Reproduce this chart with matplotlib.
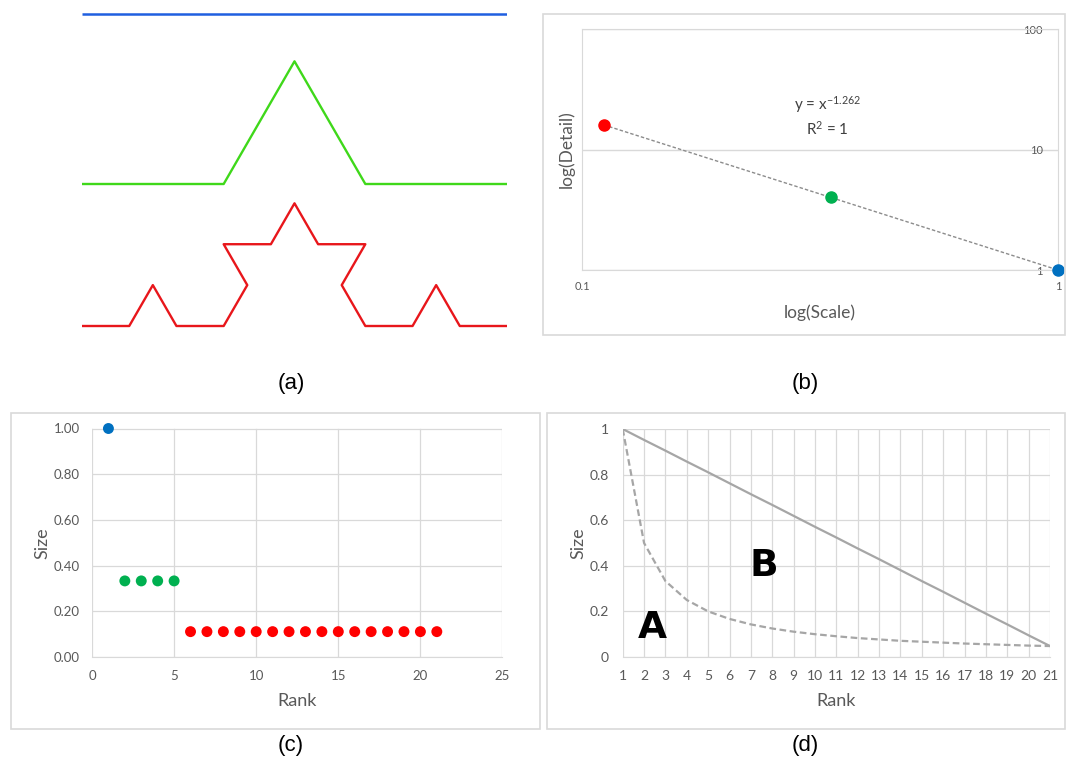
import matplotlib
matplotlib.use("Agg")
import matplotlib.pyplot as plt
from matplotlib.patches import Rectangle
from matplotlib.ticker import FixedLocator, NullLocator, FixedFormatter

# ---------------- data ----------------
# (a) Koch curve vertices, in units of 1/9 of the full length
koch0_x = [0, 9]
koch0_y = [0, 0]
koch1_x = [0, 3, 4.5, 6, 9]
koch1_y = [0, 0, 2.598, 0, 0]
koch2_x = [0, 1, 1.5, 2, 3, 3.5, 3, 4, 4.5, 5, 6, 5.5, 6, 7, 7.5, 8, 9]
koch2_y = [0, 0, 0.866, 0, 0, 0.866, 1.732, 1.732, 2.598, 1.732, 1.732,
           0.866, 0, 0, 0.866, 0, 0]

# (b) log-log scale vs detail
scale_vals = [1 / 9, 1 / 3, 1]
detail_vals = [16, 4, 1]
b_xticks = [0.1, 1]
b_xticklabels = ["0.1", "1"]
b_yticks = [1, 10, 100]
b_yticklabels = ["1", "10", "100"]
eq_text = "y = x$^{\\mathregular{-1.262}}$"
r2_text = "R$^{\\mathregular{2}}$ = 1"

# (c) rank vs size
rank_c = list(range(1, 22))
size_c = [1.00, 0.333, 0.333, 0.333, 0.333,
          0.111, 0.111, 0.111, 0.111, 0.111, 0.111, 0.111, 0.111,
          0.111, 0.111, 0.111, 0.111, 0.111, 0.111, 0.111, 0.111]
c_xticks = [0, 5, 10, 15, 20, 25]
c_yticks = [0.0, 0.2, 0.4, 0.6, 0.8, 1.0]

# (d) rank vs size: linear (solid) and 1/rank (dashed)
rank_d = list(range(1, 22))
linear_d = [1.000, 0.952, 0.905, 0.857, 0.810, 0.762, 0.714, 0.667, 0.619,
            0.571, 0.524, 0.476, 0.429, 0.381, 0.333, 0.286, 0.238, 0.190,
            0.143, 0.095, 0.048]
zipf_d = [1.000, 0.500, 0.333, 0.250, 0.200, 0.167, 0.143, 0.125, 0.111,
          0.100, 0.091, 0.083, 0.077, 0.071, 0.067, 0.063, 0.059, 0.056,
          0.053, 0.050, 0.048]
d_yticks = [0, 0.2, 0.4, 0.6, 0.8, 1.0]
d_yticklabels = ["0", "0.2", "0.4", "0.6", "0.8", "1"]

panel_labels = ["(a)", "(b)", "(c)", "(d)"]

# ---------------- figure ----------------
W, H = 1067, 765
fig = plt.figure(figsize=(W / 100, H / 100), dpi=100)
fig.patch.set_facecolor("white")
plt.rcParams["mathtext.default"] = "regular"

XL_FONT = ["Lato", "DejaVu Sans"]
TICK_C = "#595959"
GRID_C = "#d9d9d9"


def px_axes(x0, y0, x1, y1):
    return fig.add_axes([x0 / W, 1 - y1 / H, (x1 - x0) / W, (y1 - y0) / H])


def frame(x0, y0, x1, y1):
    fig.patches.append(Rectangle((x0 / W, 1 - y1 / H), (x1 - x0) / W,
                                 (y1 - y0) / H, transform=fig.transFigure,
                                 fill=False, edgecolor=GRID_C, lw=1.2))


# ---- (a) ----
axa = px_axes(82, 5, 507, 335)
unit = 425 / 9
axa.set_xlim(0, 9)
axa.set_ylim(-(335 - 326) / unit, (326 - 5) / unit)
off0, off1, off2 = 6.607, 3.007, 0.0
axa.plot(koch0_x, [v + off0 for v in koch0_y], color="#1f5fe0", lw=1.8,
         solid_capstyle="butt")
axa.plot(koch1_x, [v + off1 for v in koch1_y], color="#3fd81a", lw=1.7,
         solid_capstyle="butt")
axa.plot(koch2_x, [v + off2 for v in koch2_y], color="#e8161b", lw=1.7,
         solid_capstyle="butt")
axa.axis("off")

# ---- (b) ----
frame(543, 14, 1065, 335)
axb = px_axes(582, 29, 1058, 270)
axb.set_xscale("log")
axb.set_yscale("log")
axb.set_xlim(0.1, 1)
axb.set_ylim(1, 100)
axb.plot(scale_vals, detail_vals, ls=(0, (2.5, 1.5)), color="#8c8c8c", lw=1.0,
         zorder=2)
b_colors = ["#ff0000", "#00b050", "#0070c0"]
for xv, yv, cc in zip(scale_vals, detail_vals, b_colors):
    axb.plot([xv], [yv], marker="o", ms=8, color=cc, mec=cc, zorder=3,
             clip_on=False)
axb.xaxis.set_major_locator(FixedLocator(b_xticks))
axb.xaxis.set_major_formatter(FixedFormatter(b_xticklabels))
axb.xaxis.set_minor_locator(NullLocator())
axb.yaxis.set_major_locator(FixedLocator(b_yticks))
axb.yaxis.set_major_formatter(FixedFormatter(b_yticklabels))
axb.yaxis.set_minor_locator(NullLocator())
axb.yaxis.tick_right()
axb.tick_params(axis="y", length=0, pad=-11, labelsize=8, colors=TICK_C)
axb.tick_params(axis="x", length=0, pad=8, labelsize=8, colors=TICK_C)
for lab in axb.get_yticklabels():
    lab.set_horizontalalignment("right")
    lab.set_family(XL_FONT)
for lab in axb.get_xticklabels():
    lab.set_family(XL_FONT)
axb.grid(True, axis="y", color=GRID_C, lw=1.0)
for s in axb.spines.values():
    s.set_color(GRID_C)
axb.set_xlabel("log(Scale)", fontsize=12.5, color=TICK_C, family=XL_FONT,
               labelpad=9)
axb.set_ylabel("log(Detail)", fontsize=12.5, color=TICK_C, family=XL_FONT,
               labelpad=5)
axb.text(0.515, 0.688, eq_text, transform=axb.transAxes, ha="center",
         va="center", fontsize=11, color="#404040", family=XL_FONT)
axb.text(0.515, 0.585, r2_text, transform=axb.transAxes, ha="center",
         va="center", fontsize=11, color="#404040", family=XL_FONT)

# ---- (c) ----
frame(11, 413, 540, 729)
axc = px_axes(92, 428.5, 502.5, 657)
axc.set_xlim(0, 25)
axc.set_ylim(0, 1)
c_colors = ["#0070c0"] + ["#00b050"] * 4 + ["#ff0000"] * 16
axc.scatter(rank_c, size_c, s=62, c=c_colors, zorder=3, clip_on=False,
            linewidths=0)
axc.set_xticks(c_xticks)
axc.set_yticks(c_yticks)
axc.set_yticklabels([f"{v:.2f}" for v in c_yticks])
axc.grid(True, color=GRID_C, lw=0.9)
axc.set_axisbelow(True)
for k, s in axc.spines.items():
    s.set_visible(k == "bottom")
    s.set_color(GRID_C)
axc.tick_params(length=0, labelsize=9.5, colors=TICK_C)
axc.tick_params(axis="x", pad=9)
axc.tick_params(axis="y", pad=9)
for lab in axc.get_xticklabels() + axc.get_yticklabels():
    lab.set_family(XL_FONT)
axc.set_xlabel("Rank", fontsize=13, color=TICK_C, family=XL_FONT, labelpad=8)
axc.set_ylabel("Size", fontsize=13, color=TICK_C, family=XL_FONT, labelpad=2)

# ---- (d) ----
frame(547, 413, 1065, 729)
axd = px_axes(622.7, 429, 1050, 657)
axd.set_xlim(1, 21)
axd.set_ylim(0, 1)
axd.plot(rank_d, linear_d, color="#a6a6a6", lw=1.6, zorder=3)
axd.plot(rank_d, zipf_d, color="#a6a6a6", lw=1.6, ls=(0, (3, 1.6)), zorder=3)
axd.set_xticks(rank_d)
axd.set_yticks(d_yticks)
axd.set_yticklabels(d_yticklabels)
axd.grid(True, color=GRID_C, lw=0.9)
axd.set_axisbelow(True)
for k, s in axd.spines.items():
    s.set_visible(k == "bottom")
    s.set_color(GRID_C)
axd.tick_params(length=0, labelsize=10, colors=TICK_C)
axd.tick_params(axis="x", pad=9)
axd.tick_params(axis="y", pad=10)
for lab in axd.get_xticklabels() + axd.get_yticklabels():
    lab.set_family(XL_FONT)
axd.set_xlabel("Rank", fontsize=13, color=TICK_C, family=XL_FONT, labelpad=8)
axd.set_ylabel("Size", fontsize=13, color=TICK_C, family=XL_FONT, labelpad=2)
axd.text(2.4, 0.125, "A", fontsize=27, fontweight="heavy", color="black",
         ha="center", va="center", family=["DejaVu Sans"])
axd.text(7.6, 0.40, "B", fontsize=27, fontweight="heavy", color="black",
         ha="center", va="center", family=["DejaVu Sans"])

# ---- panel labels ----
for lab, (cx, cy) in zip(panel_labels, [(291, 383), (805, 383), (291, 745),
                                         (805, 745)]):
    fig.text(cx / W, 1 - cy / H, lab, ha="center", va="center", fontsize=16,
             family=["Liberation Sans", "DejaVu Sans"], color="black")

fig.savefig("out.png", dpi=100, facecolor="white")
